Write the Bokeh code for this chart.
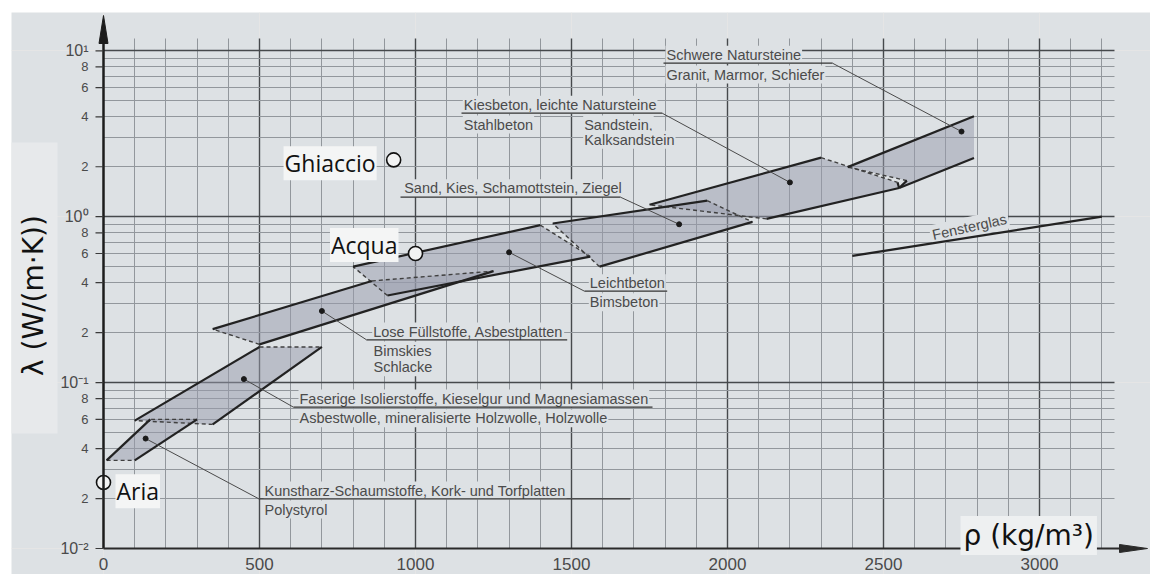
import math

from bokeh.plotting import figure
from bokeh.models import Range1d, LogScale, Grid, FixedTicker, Label, BoxAnnotation
from bokeh.core.properties import value
from bokeh.embed import file_html
from bokeh.resources import INLINE

# ---------------- values ----------------
x_ticks = [0, 500, 1000, 1500, 2000, 2500, 3000]
x_tick_labels = ["0", "500", "1000", "1500", "2000", "2500", "3000"]

y_decades = [0.01, 0.1, 1, 10]
y_decade_labels = ["10⁻²", "10⁻¹", "10⁰", "10¹"]
y_minor_ticks = [0.02, 0.04, 0.06, 0.08, 0.2, 0.4, 0.6, 0.8, 2, 4, 6, 8]
y_minor_labels = ["2", "4", "6", "8", "2", "4", "6", "8", "2", "4", "6", "8"]

# material groups: outline corners, density in kg/m³ and conductivity in W/(m·K)
schaum_rho = [10, 100, 300, 150]
schaum_lam = [0.034, 0.034, 0.06, 0.06]
faser_rho = [100, 500, 700, 350]
faser_lam = [0.059, 0.164, 0.164, 0.056]
fuell_rho = [350, 860, 1250, 500]
fuell_lam = [0.21, 0.41, 0.47, 0.17]
leicht_rho = [800, 1400, 1560, 910]
leicht_lam = [0.50, 0.89, 0.575, 0.335]
ziegel_rho = [1440, 1935, 2080, 1590]
ziegel_lam = [0.91, 1.25, 0.93, 0.50]
kies_rho = [1750, 2300, 2545, 2550, 2125]
kies_lam = [1.18, 2.27, 1.61, 1.49, 0.97]
stein_rho = [2385, 2790, 2790, 2550, 2575]
stein_lam = [1.99, 4.03, 2.26, 1.49, 1.65]

# window glass is a single line
glas_rho = [2400, 3200]
glas_lam = [0.58, 1.0]

# the dot inside each group that its caption points to
dot_rho = [135, 450, 700, 1300, 1845, 2200, 2750]
dot_lam = [0.046, 0.105, 0.27, 0.61, 0.90, 1.61, 3.26]

# reference substances
ref_names = ["Aria", "Acqua", "Ghiaccio"]
ref_rho = [0, 1000, 930]
ref_lam = [0.025, 0.6, 2.2]

# captions of the groups (same order as the dots)
captions = [
    ["Kunstharz-Schaumstoffe, Kork- und Torfplatten", "Polystyrol"],
    ["Faserige Isolierstoffe, Kieselgur und Magnesiamassen",
     "Asbestwolle, mineralisierte Holzwolle, Holzwolle"],
    ["Lose Füllstoffe, Asbestplatten", "Bimskies", "Schlacke"],
    ["Leichtbeton", "Bimsbeton"],
    ["Sand, Kies, Schamottstein, Ziegel"],
    ["Kiesbeton, leichte Natursteine", "Stahlbeton", "Sandstein,", "Kalksandstein"],
    ["Schwere Natursteine", "Granit, Marmor, Schiefer"],
]
glas_caption = "Fensterglas"

# ---------------- page geometry ----------------
W, H = 1150, 574
X0, SX = 103.0, 0.312    # pixel of density 0, pixels per kg/m³
Y0, SY = 548.0, 165.9    # pixel of λ = 0.01, pixels per decade


def dx(px):
    return (px - X0) / SX


def dy(py):
    return 10 ** (-2 + (Y0 - py) / SY)


def px_x(x):
    return X0 + SX * x


def px_y(y):
    return Y0 - SY * (math.log10(y) + 2)


BG = "#dde1e4"
FILL = "#989cac"
MINOR = "#92979c"
MAJOR = "#46494c"
INK = "#1c1c1c"
CAPTION = "#4b4b4b"

p = figure(width=W, height=H, title=None,
           x_range=Range1d(dx(11), dx(W)), y_range=Range1d(dy(H), dy(12)),
           y_axis_type="log", x_axis_location=None, y_axis_location=None,
           toolbar_location=None, output_backend="svg",
           min_border=0, min_border_left=11, min_border_top=12,
           background_fill_color=BG, border_fill_color="white",
           outline_line_color=None)
p.y_scale = LogScale()

# ---------------- grid ----------------
top_lam = dy(38)
right_rho = dx(1114)
x_minor = [v for v in range(100, 3300, 100) if v % 500]
x_major = list(range(500, 3100, 500))
y_major = [0.1, 1, 10]
y_minor = [k * 10.0 ** e for e in (-2, -1, 0) for k in range(2, 10)]
for dim, ticks, color, width, cross in [
    (0, x_minor, MINOR, 1, (0.01, top_lam)),
    (0, x_major, MAJOR, 1.4, (0.01, top_lam)),
    (1, y_minor, MINOR, 1, (0, right_rho)),
    (1, y_major, MAJOR, 1.4, (0, right_rho)),
]:
    p.add_layout(Grid(dimension=dim, ticker=FixedTicker(ticks=ticks),
                      grid_line_color=color, grid_line_width=width,
                      cross_bounds=cross))

# lighter panel behind the vertical title
p.add_layout(BoxAnnotation(left=dx(10), right=dx(57), top=dy(142), bottom=dy(433),
                           fill_color="#e7e9eb", fill_alpha=1, line_color=None,
                           level="underlay"))

# ---------------- material groups ----------------
# edge styles: S solid, D dashed, N no outline
outlines = [
    (schaum_rho, schaum_lam, "DSDS"),
    (faser_rho, faser_lam, "SDSD"),
    (fuell_rho, fuell_lam, "SDSD"),
    (leicht_rho, leicht_lam, "SDSD"),
    (ziegel_rho, ziegel_lam, "SDSD"),
    (kies_rho, kies_lam, "SDSSD"),
    (stein_rho, stein_lam, "SNSSD"),
]
solid_xs, solid_ys, dash_xs, dash_ys = [], [], [], []
for rho, lam, style in outlines:
    p.patch(rho, lam, fill_color=FILL, fill_alpha=0.5, line_color=None)
    n = len(rho)
    for i, s in enumerate(style):
        j = (i + 1) % n
        if s == "S":
            solid_xs.append([rho[i], rho[j]])
            solid_ys.append([lam[i], lam[j]])
        elif s == "D":
            dash_xs.append([rho[i], rho[j]])
            dash_ys.append([lam[i], lam[j]])

p.multi_line(dash_xs, dash_ys, line_color="#3f3f3f", line_width=1.4, line_dash="4 3")
p.multi_line(solid_xs, solid_ys, line_color="#222222", line_width=2.2)
p.line(glas_rho, glas_lam, line_color="#222222", line_width=2.2)

# ---------------- captions with leader lines ----------------
caption_lines = [
    [(263, 490), (263, 509)],
    [(298, 398), (298, 417.7)],
    [(371.7, 331), (372, 350), (372, 366.7)],
    [(588.3, 282.7), (588.3, 301.7)],
    [(402.7, 187.7)],
    [(462.3, 104.3), (462.3, 124), (582.7, 124), (582.7, 139.3)],
    [(665, 54.3), (665, 74)],
]
# (elbow where the leader meets the underline, underline start, underline end, underline y)
leader_layout = [
    ((258.3, 498.3), 258.3, 630, 498.3),
    ((293, 406.7), 293, 652, 406.7),
    ((366, 339.3), 366, 566.7, 339.3),
    ((584, 290.7), 584, 666.7, 290.7),
    ((620, 196.7), 400, 620, 196.7),
    ((661.7, 112.7), 461, 661.7, 112.7),
    ((832, 62.7), 663, 832, 62.7),
]
lead_xs, lead_ys, under_xs, under_ys = [], [], [], []
for k, (elbow, u0, u1, uy) in enumerate(leader_layout):
    lead_xs.append([dot_rho[k], dx(elbow[0])])
    lead_ys.append([dot_lam[k], dy(elbow[1])])
    under_xs.append([dx(u0), dx(u1)])
    under_ys.append([dy(uy), dy(uy)])

for k, lines in enumerate(captions):
    for text, (lx, ly) in zip(lines, caption_lines[k]):
        p.add_layout(Label(x=dx(lx), y=dy(ly), text=text,
                           text_font="Liberation Sans", text_font_size="14.5px",
                           text_color=CAPTION, text_align="left", text_baseline="middle",
                           background_fill_color=BG, padding=1, level="underlay"))

p.add_layout(Label(x=dx(969), y=dy(226.5), text=glas_caption, angle=0.218,
                   text_font="Liberation Sans", text_font_size="14.5px",
                   text_color=CAPTION, text_align="center", text_baseline="middle",
                   background_fill_color=BG, padding=2, level="underlay"))

p.multi_line(lead_xs, lead_ys, line_color="#4a4a4a", line_width=1)
p.multi_line(under_xs, under_ys, line_color="#333333", line_width=1.3)
p.scatter(dot_rho, dot_lam, size=5, color="#1a1a1a")

# ---------------- reference substances ----------------
p.scatter(ref_rho, ref_lam, marker="circle", size=14, fill_color="#f2f3f3",
          line_color="#111111", line_width=1.6)
ref_offsets = [(12, 8.7, "left"), (-17, -8.5, "right"), (-17, 3.3, "right")]
for name, r, l, (ox, oy, align) in zip(ref_names, ref_rho, ref_lam, ref_offsets):
    p.add_layout(Label(x=dx(px_x(r) + ox), y=dy(px_y(l) + oy), text=name,
                       text_font="Open Sans", text_font_size="23px", text_color="#111111",
                       text_align=align, text_baseline="alphabetic",
                       background_fill_color="#f4f5f5", padding=1))

# ---------------- axes ----------------
p.segment(x0=0, y0=0.01, x1=0, y1=dy(43), line_color=INK, line_width=2.5)
p.segment(x0=0, y0=0.01, x1=dx(1120), y1=0.01, line_color="#2a2a2a", line_width=2)
p.patch([dx(98.5), 0, dx(107.5)], [dy(43), dy(15), dy(43)], color=INK)
p.patch([dx(1119), dx(1147), dx(1119)], [dy(552), dy(548), dy(544)], color="#2a2a2a")

all_y_ticks = y_decades + y_minor_ticks
p.segment(x0=dx(95), y0=all_y_ticks, x1=0, y1=all_y_ticks, line_color="#3a3a3a", line_width=1.2)

p.text(x=[dx(88)] * len(y_decades), y=y_decades, text=y_decade_labels,
       text_font=value("Liberation Sans"), text_font_size="16px", text_color="#4a4a4a",
       text_align="right", text_baseline="middle")
p.text(x=[dx(88)] * len(y_minor_ticks), y=y_minor_ticks, text=y_minor_labels,
       text_font=value("Liberation Sans"), text_font_size="13px", text_color="#4a4a4a",
       text_align="right", text_baseline="middle")
p.text(x=x_ticks, y=[dy(563.5)] * len(x_ticks), text=x_tick_labels,
       text_font=value("Liberation Sans"), text_font_size="17px", text_color="#4a4a4a",
       text_align="center", text_baseline="middle")

p.add_layout(Label(x=dx(33), y=dy(295), text="λ (W/(m·K))", angle=math.pi / 2,
                   text_font="DejaVu Sans", text_font_size="28px", text_color="#111111",
                   text_align="center", text_baseline="middle"))
p.add_layout(Label(x=dx(960), y=dy(535), text="ρ (kg/m³)",
                   text_font="DejaVu Sans", text_font_size="28px", text_color="#111111",
                   text_align="left", text_baseline="alphabetic",
                   background_fill_color="#eef0f1", padding=3))

open("out.html", "w").write(file_html(p, INLINE))
